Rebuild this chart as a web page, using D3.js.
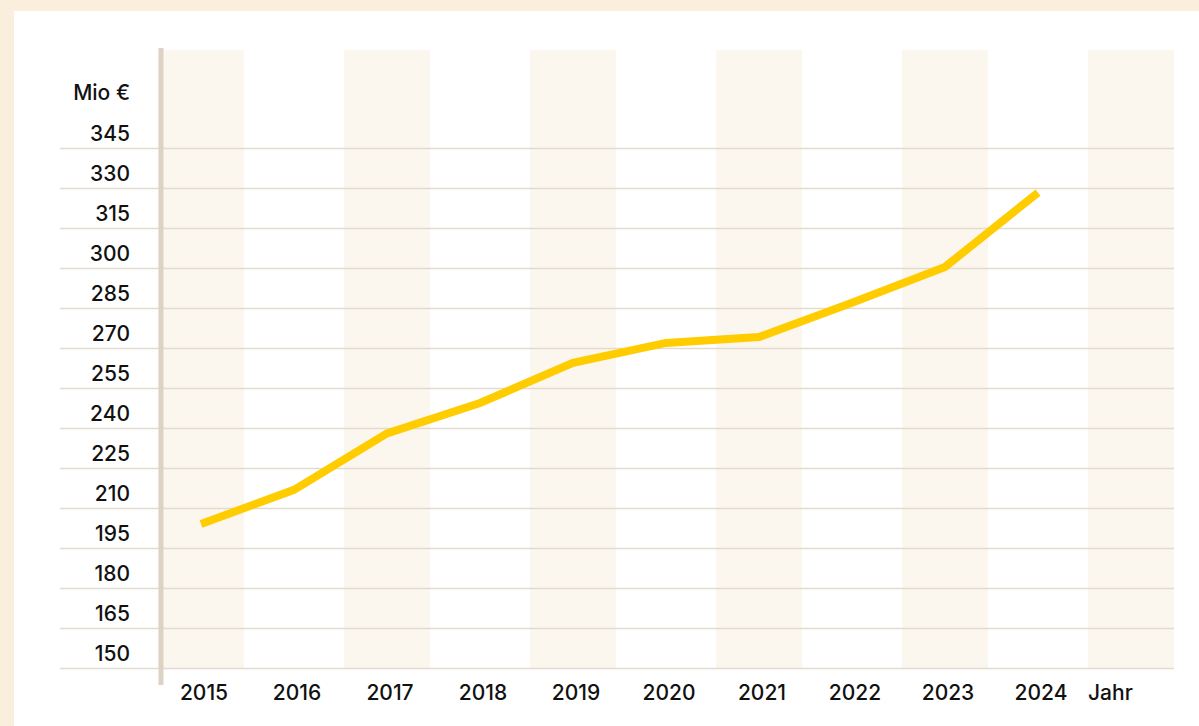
<!DOCTYPE html>
<html>
<head>
<meta charset="utf-8">
<script src="https://cdn.jsdelivr.net/npm/d3@7"></script>
<style>
  html, body { margin: 0; padding: 0; background: #faeedc; }
  #chart { width: 1199px; height: 726px; }
  text { font-family: "Inter", "Lato", sans-serif; font-weight: 500; fill: #111; }
</style>
</head>
<body>
<div id="chart"></div>
<script>
// Chart data
const years = ["2015", "2016", "2017", "2018", "2019", "2020", "2021", "2022", "2023", "2024"];
const values = [204, 216.8, 238, 249.4, 264.4, 271.9, 274.1, 287, 300.4, 328.3];
const yTicks = [150, 165, 180, 195, 210, 225, 240, 255, 270, 285, 300, 315, 330, 345];
const columns = years.concat(["Jahr"]);

const width = 1199;
const height = 726;

const svg = d3.select("#chart").append("svg")
  .attr("width", width)
  .attr("height", height);

// White panel on the beige page
svg.append("rect")
  .attr("x", 14)
  .attr("y", 11)
  .attr("width", width - 14)
  .attr("height", height - 11)
  .attr("fill", "#ffffff");

// Scales
const x = d3.scaleBand()
  .domain(columns)
  .range([158, 1181])
  .paddingInner(0)
  .paddingOuter(0);

const y = d3.scaleLinear()
  .domain([150, 345])
  .range([668, 148]);

const bandW = x.bandwidth() - 7;
const xc = (d) => x(d) + bandW / 2;

// Alternating background bands
svg.append("g")
  .selectAll("rect")
  .data(columns.filter((d, i) => i % 2 === 0))
  .enter()
  .append("rect")
  .attr("x", (d) => x(d))
  .attr("y", 50)
  .attr("width", bandW)
  .attr("height", 668 - 50)
  .attr("fill", "#fbf6ee");

// Gridlines and y labels
const yAxis = d3.axisLeft(y)
  .tickValues(yTicks)
  .tickSize(-(x("Jahr") + bandW - 60))
  .tickPadding(0);

const gy = svg.append("g")
  .attr("transform", "translate(60,0)")
  .call(yAxis);

gy.select(".domain").remove();
gy.selectAll(".tick line")
  .attr("stroke", "#e3dbcd")
  .attr("stroke-width", 1.5);
gy.selectAll(".tick text")
  .attr("x", 70)
  .attr("dy", "-8px")
  .attr("text-anchor", "end")
  .style("font-size", "21px")
  .style("dominant-baseline", "auto");

// Unit label
svg.append("text")
  .attr("x", 130)
  .attr("y", 100)
  .attr("text-anchor", "end")
  .style("font-size", "21px")
  .text("Mio €");

// Left axis bar
svg.append("line")
  .attr("x1", 161)
  .attr("x2", 161)
  .attr("y1", 48)
  .attr("y2", 685)
  .attr("stroke", "#ddd3c3")
  .attr("stroke-width", 5);

// Year labels
svg.append("g")
  .selectAll("text")
  .data(columns)
  .enter()
  .append("text")
  .attr("x", (d) => d === "Jahr" ? x(d) : xc(d) + 3)
  .attr("y", 700)
  .attr("text-anchor", (d) => d === "Jahr" ? "start" : "middle")
  .style("font-size", "21px")
  .text((d) => d);

// Line
const line = d3.line()
  .x((d, i) => xc(years[i]))
  .y((d) => y(d));

svg.append("path")
  .datum(values)
  .attr("d", line)
  .attr("fill", "none")
  .attr("stroke", "#ffcc00")
  .attr("stroke-width", 8);
</script>
</body>
</html>
